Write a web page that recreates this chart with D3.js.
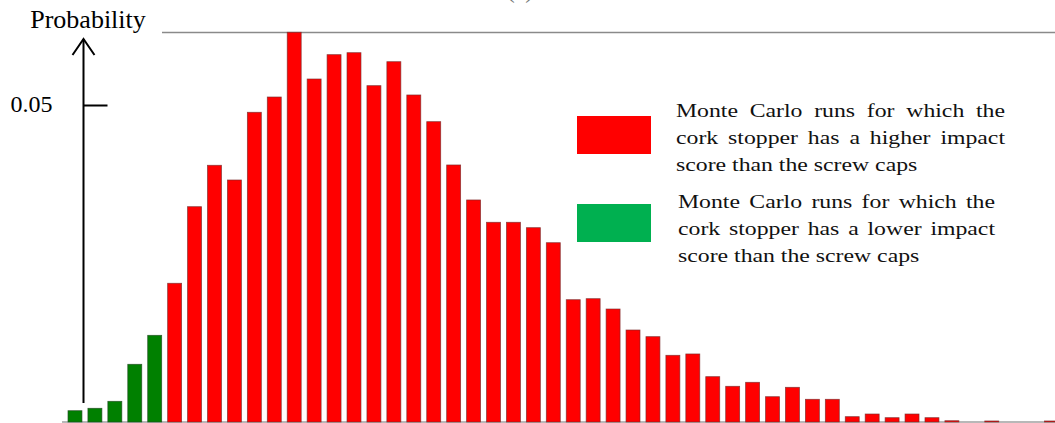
<!DOCTYPE html>
<html>
<head>
<meta charset="utf-8">
<script src="https://cdn.jsdelivr.net/npm/d3@7"></script>
<style>
  body { margin: 0; background: #fff; }
  svg { display: block; }
</style>
</head>
<body>
<div id="chart"></div>
<script>
// probability of each Monte Carlo bin
var probabilities = [
  0.00178, 0.00216, 0.00326, 0.0091, 0.01367, 0.02188, 0.03396, 0.04049, 0.03817, 0.04885,
  0.05126, 0.06147, 0.0541, 0.05794, 0.05825, 0.05305, 0.05683, 0.05158, 0.04737, 0.04054,
  0.03502, 0.0315, 0.0315, 0.03065, 0.02828, 0.01929, 0.01945, 0.01782, 0.01451, 0.01346,
  0.01052, 0.01073, 0.00715, 0.00563, 0.00626, 0.00399, 0.00547, 0.00358, 0.00358, 0.00084,
  0.00126, 0.00068, 0.00126, 0.00068, 0.0002, 0, 0.00016, 0, 0, 0.00016
];
var lowerBins = [0, 1, 2, 3, 4]; // cork lower than screw caps
var yTicks = [0.05];
var yLabel = "Probability";
var title = "(a)";
var legendItems = [
  {color: "#ff0000", lines: ["Monte Carlo runs for which the", "cork stopper has a higher impact", "score than the screw caps"]},
  {color: "#00b050", lines: ["Monte Carlo runs for which the", "cork stopper has a lower impact", "score than the screw caps"]}
];

var width = 1055, height = 423;
var font = "'Liberation Serif', 'Times New Roman', serif";

var svg = d3.select("#chart").append("svg").attr("width", width).attr("height", height);

var bins = probabilities.map(function(d, i) { return i; });
var x = d3.scaleBand().domain(bins).range([68, 68 + 19.93 * (bins.length - 0.3)]).paddingInner(0.3).paddingOuter(0);
var y = d3.scaleLinear().domain([0, 0.05]).range([422, 105]);

// frame lines
svg.append("line").attr("x1", 162).attr("x2", width).attr("y1", 32.5).attr("y2", 32.5)
  .attr("stroke", "#8a8a8a").attr("stroke-width", 1.3);
svg.append("line").attr("x1", 62).attr("x2", width).attr("y1", y(0)).attr("y2", y(0))
  .attr("stroke", "#a0a0a0").attr("stroke-width", 1.5);

// panel title, cropped at the top edge in the source figure
svg.append("text").attr("x", 520).attr("y", -2).attr("text-anchor", "middle")
  .attr("font-family", font).attr("font-size", 24).attr("fill", "#777").text(title);

// bars
svg.append("g").selectAll("rect")
  .data(probabilities)
  .enter()
  .append("rect")
  .attr("x", function(d, i) { return x(i); })
  .attr("width", x.bandwidth())
  .attr("y", function(d) { return y(d); })
  .attr("height", function(d) { return y(0) - y(d); })
  .attr("fill", function(d, i) { return lowerBins.indexOf(i) >= 0 ? "#008000" : "#ff0000"; })
  .attr("stroke", function(d, i) { return lowerBins.indexOf(i) >= 0 ? "#1f4a1f" : "#7a2a2a"; })
  .attr("stroke-width", 0.8)
  .attr("stroke-opacity", 0.8);

// y axis with arrow
var axisX = 83.5;
svg.append("line").attr("x1", axisX).attr("x2", axisX).attr("y1", 39).attr("y2", 403)
  .attr("stroke", "#000").attr("stroke-width", 2);
svg.append("path").attr("d", "M" + (axisX - 11) + ",55 L" + axisX + ",39 L" + (axisX + 11) + ",55")
  .attr("fill", "none").attr("stroke", "#000").attr("stroke-width", 2);

var yAxis = svg.append("g").attr("transform", "translate(" + axisX + ",0)")
  .call(d3.axisLeft(y).tickValues(yTicks).tickSizeInner(-24).tickSizeOuter(0).tickPadding(31)
    .tickFormat(d3.format(".2f")));
yAxis.select(".domain").remove();
yAxis.selectAll("line").attr("stroke", "#000").attr("stroke-width", 2);
yAxis.selectAll("text").attr("font-family", font).attr("font-size", 24).attr("fill", "#000").attr("dy", "0.25em");

svg.append("text").attr("x", 88).attr("y", 28).attr("text-anchor", "middle")
  .attr("font-family", font).attr("font-size", 26).text(yLabel);

// legend, justified text stretched horizontally like the original
var stretch = 1.25;
var legendBoxes = [
  {y: 116, textX: 676, right: 1005, base: 117},
  {y: 204, textX: 678, right: 995, base: 208}
];
legendItems.forEach(function(item, k) {
  var pos = legendBoxes[k];
  svg.append("rect").attr("x", 577).attr("y", pos.y).attr("width", 74).attr("height", 38).attr("fill", item.color);
  var g = svg.append("g").attr("transform", "translate(" + pos.textX + "," + pos.base + ") scale(" + stretch + ",1)");
  item.lines.forEach(function(line, j) {
    var t = g.append("text").attr("x", 0).attr("y", j * 27)
      .attr("font-family", font).attr("font-size", 19).attr("fill", "#111").text(line);
    if (j < item.lines.length - 1) {
      var natural = t.node().getComputedTextLength();
      var target = (pos.right - pos.textX) / stretch;
      var spaces = line.split(" ").length - 1;
      t.attr("word-spacing", (target - natural) / spaces);
    }
  });
});
</script>
</body>
</html>
